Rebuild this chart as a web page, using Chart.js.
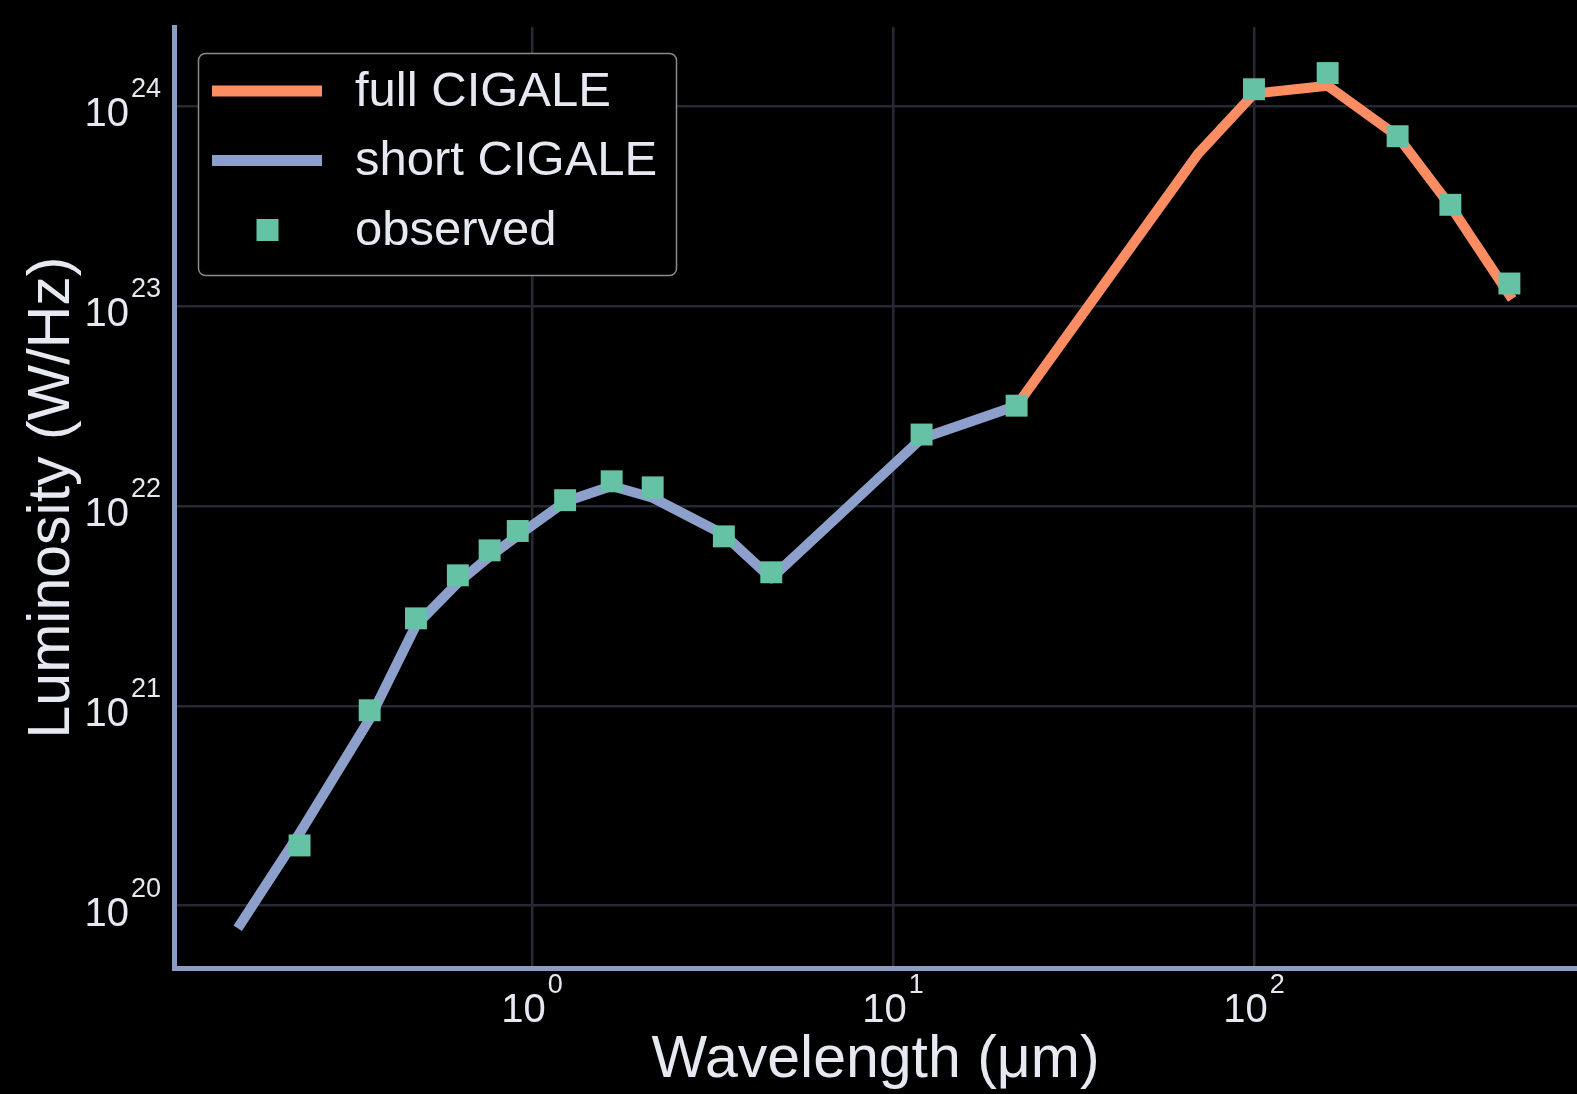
<!DOCTYPE html>
<html>
<head>
<meta charset="utf-8">
<script src="https://cdn.jsdelivr.net/npm/chart.js@4.4.0/dist/chart.umd.min.js"></script>
<style>
  html, body { margin: 0; padding: 0; background: #000; }
  #wrap { width: 1577px; height: 1094px; position: relative; }
</style>
</head>
<body>
<div id="wrap"><canvas id="sed"></canvas></div>
<script>
// observed photometry (µm, W/Hz)
const obsWave = [0.227, 0.355, 0.477, 0.623, 0.763, 0.913, 1.235, 1.662, 2.159, 3.4, 4.6, 12, 22, 100, 160, 250, 350, 510];
const obsLum = [2.0e20, 9.5e20, 2.74e21, 4.5e21, 6.0e21, 7.5e21, 1.07e22, 1.33e22, 1.24e22, 7.05e21, 4.66e21, 2.28e22, 3.18e22, 1.22e24, 1.47e24, 7.1e23, 3.22e23, 1.30e23];

// short CIGALE model (UV to mid-IR)
const shortWave = [0.153, 0.227, 0.355, 0.477, 0.623, 0.763, 0.913, 1.235, 1.662, 2.159, 3.4, 4.6, 12, 22];
const shortLum = [7.7e19, 2.3e20, 8.6e20, 2.53e21, 4.13e21, 5.6e21, 7.1e21, 1.05e22, 1.26e22, 1.1e22, 7.2e21, 4.35e21, 2.18e22, 3.18e22];

// full CIGALE model (visible part, far-IR)
const fullWave = [22, 70, 100, 160, 250, 350, 510];
const fullLum = [3.18e22, 5.8e23, 1.16e24, 1.27e24, 7.1e23, 3.18e23, 1.14e23];

const xTicks = [1, 10, 100];
const yTicks = [1e20, 1e21, 1e22, 1e23, 1e24];

const FONT = '"Liberation Sans", Arial, sans-serif';
const TEXT = '#e6e9f2';
const SPINE = '#8c9cc4';
const GRID = '#262833';

const pts = (xs, ys) => xs.map((v, i) => ({ x: v, y: ys[i] }));

// tick labels as 10 with a raised exponent
const powerLabels = {
    id: 'powerLabels',
    afterDraw(chart) {
        const { ctx, scales: { x, y } } = chart;
        ctx.save();
        ctx.fillStyle = TEXT;
        ctx.textBaseline = 'alphabetic';
        ctx.textAlign = 'left';

        const parts = v => {
            const exp = String(Math.round(Math.log10(v)));
            ctx.font = '40px ' + FONT;
            const wb = ctx.measureText('10').width;
            ctx.font = '27px ' + FONT;
            const we = ctx.measureText(exp).width;
            return { exp, wb, we, total: wb + 2 + we };
        };
        const put = (p, left, base) => {
            ctx.font = '40px ' + FONT;
            ctx.fillText('10', left, base);
            ctx.font = '27px ' + FONT;
            ctx.fillText(p.exp, left + p.wb + 2, base - 29);
        };

        xTicks.forEach(v => {
            const p = parts(v);
            const px = x.getPixelForValue(v);
            put(p, px - p.total / 2, 1022);
        });
        yTicks.forEach(v => {
            const p = parts(v);
            const py = y.getPixelForValue(v);
            put(p, chart.chartArea.left - 13 - p.total, py + 20);
        });
        ctx.restore();
    }
};

// matplotlib-like legend box in the upper left
const boxLegend = {
    id: 'boxLegend',
    afterDraw(chart) {
        const { ctx } = chart;
        const ds = chart.data.datasets;
        ctx.save();
        ctx.beginPath();
        ctx.roundRect(198.5, 53.5, 478, 222, 7);
        ctx.fillStyle = '#000';
        ctx.fill();
        ctx.lineWidth = 1.5;
        ctx.strokeStyle = '#8a8a8a';
        ctx.stroke();

        const rows = [91, 160.5, 230];
        ds.forEach((d, i) => {
            const cy = rows[i];
            if (d.showLine) {
                ctx.beginPath();
                ctx.moveTo(212, cy);
                ctx.lineTo(322, cy);
                ctx.lineWidth = 11;
                ctx.lineCap = 'butt';
                ctx.strokeStyle = d.borderColor;
                ctx.stroke();
            } else {
                ctx.fillStyle = d.pointBackgroundColor;
                ctx.fillRect(256.5, cy - 11, 22, 22);
            }
            ctx.fillStyle = TEXT;
            ctx.font = '49px ' + FONT;
            ctx.textBaseline = 'middle';
            ctx.fillText(d.label, 355, cy + 1);
        });
        ctx.restore();
    }
};

const ctx = document.getElementById('sed').getContext('2d');
new Chart(ctx, {
    type: 'scatter',
    data: {
        datasets: [{
            label: 'full CIGALE',
            data: pts(fullWave, fullLum),
            showLine: true,
            borderColor: '#fc8d62',
            borderWidth: 10,
            borderJoinStyle: 'round',
            borderCapStyle: 'square',
            pointRadius: 0,
            order: 2
        }, {
            label: 'short CIGALE',
            data: pts(shortWave, shortLum),
            showLine: true,
            borderColor: '#8da0cb',
            borderWidth: 10,
            borderJoinStyle: 'round',
            borderCapStyle: 'butt',
            pointRadius: 0,
            order: 1
        }, {
            label: 'observed',
            data: pts(obsWave, obsLum),
            showLine: false,
            pointStyle: 'rect',
            pointRadius: 15.5,
            pointBackgroundColor: '#66c2a5',
            pointBorderWidth: 0,
            pointBorderColor: '#66c2a5',
            order: 0
        }]
    },
    options: {
        responsive: true,
        maintainAspectRatio: false,
        animation: false,
        layout: { autoPadding: false, padding: { top: 27, left: 0, right: 0, bottom: 0 } },
        plugins: {
            legend: { display: false },
            tooltip: { enabled: false }
        },
        scales: {
            x: {
                type: 'logarithmic',
                min: 0.1019,
                max: 785,
                afterBuildTicks: s => { s.ticks = xTicks.map(v => ({ value: v })); },
                afterFit: s => { s.height = 126; },
                ticks: { display: false },
                grid: { color: GRID, lineWidth: 2.5, drawTicks: false },
                border: { display: true, color: SPINE, width: 5 },
                title: {
                    display: true,
                    text: 'Wavelength (μm)',
                    color: TEXT,
                    font: { family: FONT, size: 59, lineHeight: 1.1 },
                    padding: { top: 0, bottom: 1 }
                }
            },
            y: {
                type: 'logarithmic',
                min: 4.87e19,
                max: 2.5e24,
                afterBuildTicks: s => { s.ticks = yTicks.map(v => ({ value: v })); },
                afterFit: s => { s.width = 174; },
                ticks: { display: false },
                grid: { color: GRID, lineWidth: 2.5, drawTicks: false },
                border: { display: true, color: SPINE, width: 5 },
                title: {
                    display: true,
                    text: 'Luminosity (W/Hz)',
                    color: TEXT,
                    font: { family: FONT, size: 59, lineHeight: 1.1 },
                    padding: { top: 20, bottom: 0 }
                }
            }
        }
    },
    plugins: [powerLabels, boxLegend]
});
</script>
</body>
</html>
